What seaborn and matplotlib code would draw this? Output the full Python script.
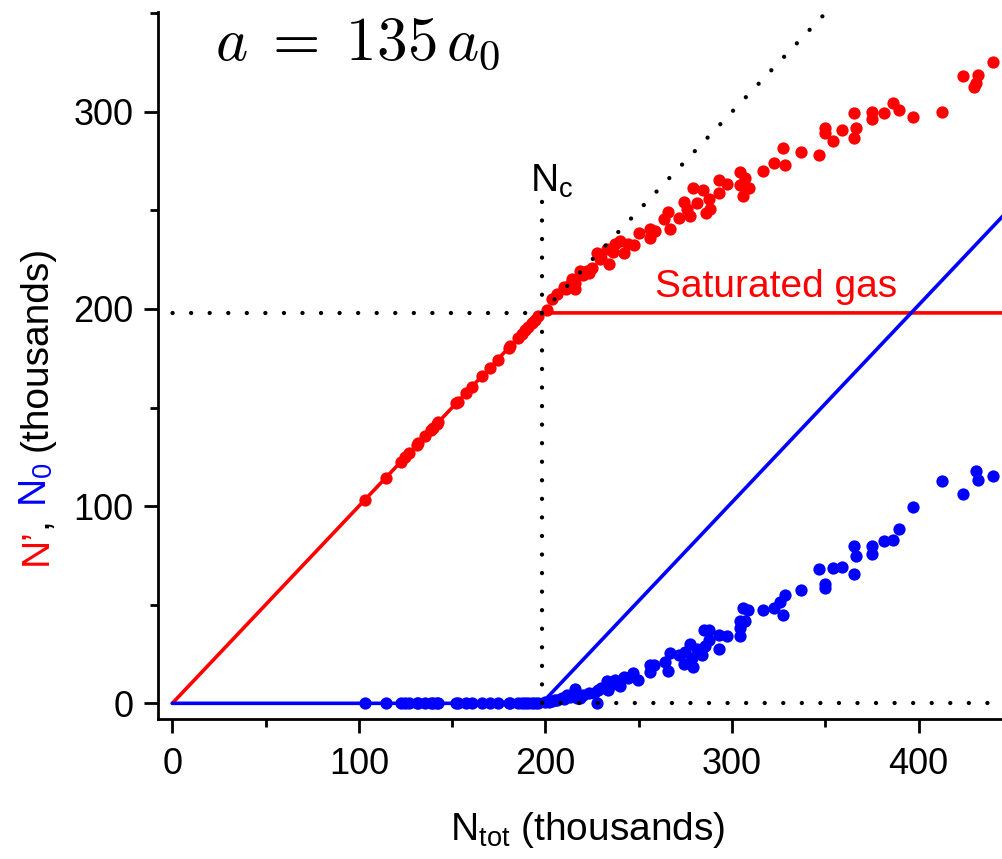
import matplotlib
matplotlib.use("Agg")
import matplotlib.pyplot as plt
import seaborn as sns
import pandas as pd
from matplotlib.ticker import MultipleLocator

# ---------------- data (thousands of atoms) ----------------
N_C = 198.0

below_ntot = [103.3, 114.5, 122.4, 124.7, 127.1, 131.0, 131.9, 135.5, 138.5, 139.6,
              141.7, 142.6, 152.1, 153.0, 157.5, 160.5, 165.9, 170.3, 174.3, 180.2,
              181.1, 185.5, 187.3, 189.1, 190.9, 192.7, 194.5, 196.2]
below_nprime = [103.3, 114.5, 122.4, 124.7, 127.1, 131.0, 131.9, 135.5, 138.5, 139.6,
                141.7, 142.6, 152.1, 153.0, 157.5, 160.5, 165.9, 170.3, 174.3, 180.2,
                181.1, 185.5, 187.3, 189.1, 190.9, 192.7, 194.5, 196.2]
below_n0 = [0.0] * 28

above_ntot_red = [200.8, 203.4, 206.1, 209.7, 211.0, 213.0, 214.2, 215.9, 216.0, 218.6,
                  220.0, 222.2, 223.1, 225.0, 227.6, 229.3, 230.0, 232.9, 233.8, 236.0,
                  237.4, 240.1, 241.9, 244.0, 247.2, 249.9, 255.8, 256.2, 258.9, 263.3,
                  265.5, 266.9, 271.4, 274.0, 275.9, 277.6, 279.1, 281.2, 284.4, 286.2,
                  287.4, 288.4, 292.8, 293.2, 297.3, 304.1, 304.1, 305.9, 307.1, 308.9,
                  316.6, 322.3, 327.2, 328.6, 337.2, 346.5, 349.7, 349.7, 354.2, 359.0,
                  365.2, 365.6, 366.5, 375.1, 375.1, 381.3, 386.4, 389.4, 396.9, 412.7,
                  423.9, 429.6, 430.7, 431.8, 440.0]
above_nprime = [199.7, 204.8, 207.4, 211.3, 210.0, 212.0, 215.0, 209.9, 213.0, 219.2,
                217.0, 219.2, 218.4, 221.0, 228.5, 225.1, 226.0, 230.2, 222.6, 229.0,
                232.7, 234.4, 228.5, 233.0, 232.2, 238.7, 236.1, 240.4, 239.6, 245.4,
                249.3, 240.4, 246.3, 254.4, 250.5, 247.1, 261.3, 253.9, 260.2, 248.8,
                255.9, 250.9, 265.6, 258.6, 263.5, 269.6, 262.7, 257.3, 266.6, 261.5,
                270.2, 274.1, 281.8, 273.0, 279.8, 278.3, 291.8, 289.3, 285.2, 290.6,
                299.4, 286.5, 291.6, 299.9, 296.2, 299.4, 304.5, 300.8, 297.2, 300.1,
                318.0, 312.8, 314.5, 318.7, 325.0]

above_ntot_blue = [200.0, 202.0, 203.4, 205.0, 206.1, 208.8, 210.0, 211.5, 213.0, 215.9,
                   217.0, 218.6, 220.0, 223.1, 226.0, 227.6, 228.4, 230.0, 232.9, 233.3,
                   236.0, 237.4, 240.1, 241.9, 244.0, 246.9, 249.4, 255.8, 255.8, 257.9,
                   264.2, 265.7, 266.5, 271.4, 274.0, 274.9, 277.3, 278.5, 279.1, 281.2,
                   283.9, 285.1, 285.7, 287.4, 287.4, 292.8, 292.8, 297.3, 304.1, 304.1,
                   304.5, 305.9, 307.1, 308.4, 316.6, 322.3, 325.9, 327.2, 328.6, 337.2,
                   346.5, 349.7, 349.7, 354.2, 359.0, 365.2, 365.2, 366.5, 375.1, 375.1,
                   381.3, 386.4, 389.4, 396.9, 412.7, 423.9, 430.5, 431.8, 440.0]
above_n0 = [0.5, 0.8, 1.2, 1.5, 1.8, 2.6, 2.0, 4.3, 3.0, 7.2,
            2.5, 2.9, 4.0, 5.2, 5.0, 0.4, 6.9, 8.0, 11.1, 6.9,
            10.0, 11.9, 8.9, 13.6, 13.0, 15.3, 11.9, 16.1, 19.2, 19.2,
            21.2, 16.6, 25.5, 24.6, 19.9, 26.0, 30.2, 22.9, 18.2, 27.5,
            24.6, 37.3, 29.2, 37.3, 31.9, 34.8, 27.7, 33.9, 41.5, 34.3,
            38.2, 48.3, 41.5, 47.1, 47.1, 48.3, 51.2, 44.9, 55.1, 57.6,
            68.3, 60.5, 58.5, 68.6, 68.9, 79.6, 65.7, 74.9, 79.6, 75.9,
            82.5, 83.0, 88.4, 99.6, 112.6, 106.0, 117.7, 113.5, 115.5]

# ideal-gas / saturation model lines
model_ntot = [0.0, N_C, 470.0]
model_nprime = [0.0, N_C, N_C]
model_n0 = [0.0, 0.0, 470.0 - N_C]

xticks = [0, 100, 200, 300, 400]
yticks = [0, 100, 200, 300]

RED = "#ff0000"
BLUE = "#0000ff"

# ---------------- style ----------------
sns.set_theme(style="ticks")
plt.rcParams['font.family'] = ['Liberation Sans', 'DejaVu Sans']
plt.rcParams['mathtext.fontset'] = 'custom'
plt.rcParams['mathtext.rm'] = 'Liberation Sans'
plt.rcParams['mathtext.it'] = 'Liberation Sans:italic'
plt.rcParams['mathtext.bf'] = 'Liberation Sans:bold'

W, H = 1003, 859
fig = plt.figure(figsize=(W / 100, H / 100), dpi=100)
ax = fig.add_axes([158.3 / W, (H - 719) / H, 1 - 158.3 / W, (719 - 12) / H])

red_df = pd.DataFrame({"Ntot": below_ntot + above_ntot_red,
                       "N": below_nprime + above_nprime})
blue_df = pd.DataFrame({"Ntot": below_ntot + above_ntot_blue,
                        "N": below_n0 + above_n0})
model_df = pd.DataFrame({"Ntot": model_ntot, "Nprime": model_nprime, "N0": model_n0})

# model lines
sns.lineplot(data=model_df, x="Ntot", y="Nprime", color=RED, lw=2.6,
             sort=False, estimator=None, ax=ax, zorder=2)
sns.lineplot(data=model_df, x="Ntot", y="N0", color=BLUE, lw=2.6,
             sort=False, estimator=None, ax=ax, zorder=2)

# measured points
sns.scatterplot(data=red_df, x="Ntot", y="N", color=RED, s=78, linewidth=0,
                ax=ax, zorder=3)
sns.scatterplot(data=blue_df, x="Ntot", y="N", color=BLUE, s=78, linewidth=0,
                ax=ax, zorder=3)

# dotted guide lines
dot = dict(color="black", lw=3.1, linestyle=(0, (0.01, 4.3)),
           dash_capstyle="round", zorder=4)
ax.plot([-10, N_C], [N_C, N_C], **dot)
ax.plot([N_C, N_C], [0, 262], **dot)
ax.plot([N_C, 470], [0, 0], **dot)
ax.plot([N_C, 380], [N_C, 380], **dot)

# axes
ax.set_xlim(-7.5, 445.2)
ax.set_ylim(-7.95, 350.6)
ax.set_xticks(xticks)
ax.set_yticks(yticks)
ax.xaxis.set_minor_locator(MultipleLocator(50))
ax.yaxis.set_minor_locator(MultipleLocator(50))
ax.set_xlabel("")
ax.set_ylabel("")
for s in ["top", "right"]:
    ax.spines[s].set_visible(False)
for s in ["left", "bottom"]:
    ax.spines[s].set_linewidth(2.0)
    ax.spines[s].set_color("black")
ax.tick_params(which="major", direction="out", length=10, width=2.0,
               labelsize=26, colors="black")
ax.tick_params(which="minor", direction="out", length=5.5, width=2.0, colors="black")
ax.tick_params(axis="x", which="major", pad=10)
ax.tick_params(axis="y", which="major", pad=8)

# annotations
ax.text(22.8, 326.6, r"$a\;=\;135\,a_0$", fontsize=44, math_fontfamily="cm",
        ha="left", va="baseline", color="black")
ax.text(191.7, 259.4, r"N$_\mathrm{c}$", fontsize=28, ha="left", va="baseline",
        color="black")
ax.text(258.7, 206.2, "Saturated gas", fontsize=28, ha="left", va="baseline", color=RED)

# x label
fig.text(450 / W, (H - 840) / H, r"N$_\mathrm{tot}$ (thousands)", fontsize=28,
         ha="left", va="baseline", color="black")

# multi-coloured y label, built piece by piece (rotated)
fig.canvas.draw()
renderer = fig.canvas.get_renderer()
space_px = 0.278 * 28 * 100 / 72
x_base = 46.7 / W
y_px = H - 565
pieces = [("N\u2019", RED, 0.0), (",", "black", 0.0),
          (r"N$_\mathrm{0}$", BLUE, space_px), ("(thousands)", "black", space_px)]
for txt, col, gap in pieces:
    y_px += gap
    t = fig.text(x_base, y_px / H, txt, rotation=90, rotation_mode="anchor",
                 ha="left", va="baseline", color=col, fontsize=28)
    bb = t.get_window_extent(renderer)
    y_px = bb.y1

fig.savefig("out.png", dpi=100)
